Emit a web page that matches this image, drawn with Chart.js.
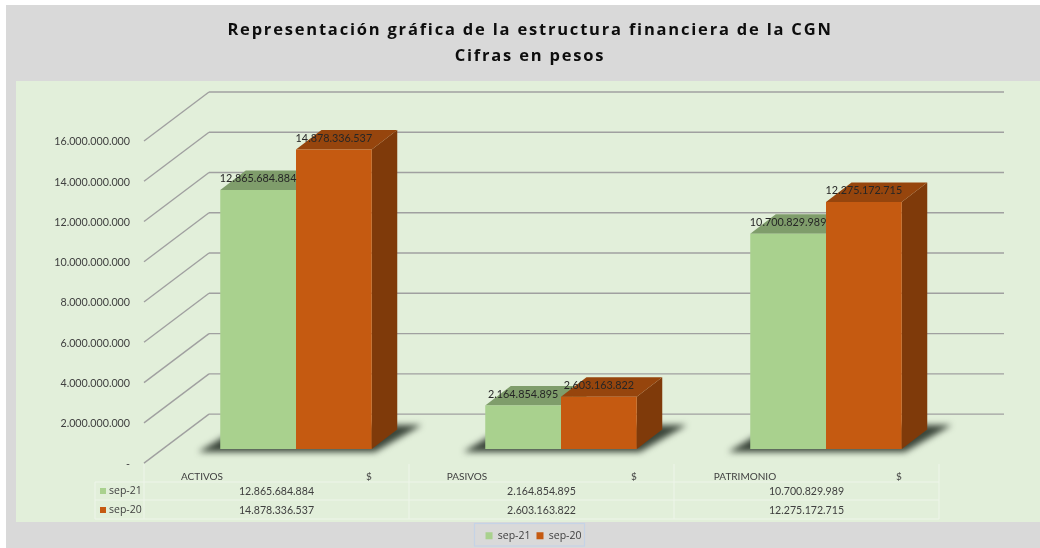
<!DOCTYPE html>
<html>
<head>
<meta charset="utf-8">
<title>Estructura financiera CGN</title>
<script src="https://cdn.jsdelivr.net/npm/chart.js@4"></script>
<style>
  html, body { margin: 0; padding: 0; background: #fff; }
  #wrap { width: 1040px; height: 548px; overflow: hidden; }
  canvas { filter: blur(0.45px); }
</style>
</head>
<body>
<div id="wrap"><canvas id="myChart" width="1040" height="548"></canvas></div>
<script>
const categories = ['ACTIVOS', 'PASIVOS', 'PATRIMONIO'];
const currencyLabel = '$';
const seriesNames = ['sep-21', 'sep-20'];
const sep21Values = [12865684884, 2164854895, 10700829989];
const sep20Values = [14878336537, 2603163822, 12275172715];
const titleLines = ['Representación gráfica de la estructura financiera de la CGN', 'Cifras en pesos'];

const frontColors = ['#a9d18e', '#c55a11'];
const topColors = ['#7f9d6b', '#96450d'];
const sideColors = ['#7f9d6b', '#7f3a0a'];

const font = 'Lato, sans-serif';
const textColor = '#404040';

// 3d offsets measured from the bar plane (the chart area)
const frontPlane = { dx: -19.5, dy: 14 };
const backPlane = { dx: 45.5, dy: -35 };
const barDepth = { dx: 25.5, dy: -19.5 };

function fmt(n) {
    return String(n).replace(/\B(?=(\d{3})+(?!\d))/g, '.');
}

function poly(ctx, pts, color) {
    ctx.fillStyle = color;
    ctx.beginPath();
    pts.forEach((p, i) => i ? ctx.lineTo(p[0], p[1]) : ctx.moveTo(p[0], p[1]));
    ctx.closePath();
    ctx.fill();
}

function line(ctx, x1, y1, x2, y2) {
    ctx.beginPath();
    ctx.moveTo(x1, y1);
    ctx.lineTo(x2, y2);
    ctx.stroke();
}

const chart3d = {
    id: 'chart3d',
    beforeDraw(chart) {
        const ctx = chart.ctx;
        ctx.save();
        ctx.fillStyle = '#d9d9d9';
        ctx.fillRect(6, 5, 1034, 543);
        ctx.fillStyle = '#e2efda';
        ctx.fillRect(16, 81, 1024, 441);

        // title
        ctx.fillStyle = '#0d0d0d';
        ctx.font = 'bold 16.5px "Open Sans", sans-serif';
        ctx.letterSpacing = '1.8px';
        ctx.textAlign = 'center';
        ctx.textBaseline = 'middle';
        ctx.fillText(titleLines[0], 530, 30);
        ctx.fillText(titleLines[1], 530, 56);
        ctx.letterSpacing = '0px';

        // legend frame
        ctx.strokeStyle = '#c5d3e6';
        ctx.lineWidth = 1.2;
        ctx.strokeRect(474.5, 523.5, 110, 22.5);
        ctx.restore();
    },
    beforeDatasetsDraw(chart) {
        const ctx = chart.ctx;
        const xs = chart.scales.x, ys = chart.scales.y;
        ctx.save();

        // walls: gridlines and diagonals
        ctx.strokeStyle = '#a0a0a0';
        ctx.lineWidth = 1.4;
        const left = xs.left, right = xs.right;
        ys.ticks.forEach(t => {
            const y = ys.getPixelForValue(t.value);
            line(ctx, left + frontPlane.dx, y + frontPlane.dy, left + backPlane.dx, y + backPlane.dy);
            line(ctx, left + backPlane.dx, y + backPlane.dy, right + backPlane.dx, y + backPlane.dy);
        });

        // y tick labels sit on the front plane
        ctx.fillStyle = textColor;
        ctx.font = '10.7px ' + font;
        ctx.textAlign = 'right';
        ctx.textBaseline = 'middle';
        ys.ticks.forEach(t => {
            const y = ys.getPixelForValue(t.value);
            ctx.fillText(t.label, left + frontPlane.dx - 14, y + frontPlane.dy + 1);
        });

        // floor shadows
        const metaA = chart.getDatasetMeta(0).data;
        const metaB = chart.getDatasetMeta(1).data;
        ctx.save();
        ctx.filter = 'blur(3px)';
        metaA.forEach((bar, i) => {
            const L = bar.x - bar.width / 2;
            const R = metaB[i].x + metaB[i].width / 2;
            const B = bar.base;
            poly(ctx, [[L - 22, B + 3], [R + 3, B + 3], [R + 50, B - 24], [L + 23, B - 24]], 'rgba(45,55,45,0.92)');
        });
        ctx.restore();

        // side and top faces, back to front
        [metaA, metaB].forEach((bars, s) => {
            bars.forEach(bar => {
                const L = bar.x - bar.width / 2;
                const R = bar.x + bar.width / 2;
                const T = bar.y, B = bar.base;
                const d = barDepth;
                poly(ctx, [[R, T], [R + d.dx, T + d.dy], [R + d.dx, B + d.dy], [R, B]], sideColors[s]);
                poly(ctx, [[L, T], [R, T], [R + d.dx, T + d.dy], [L + d.dx, T + d.dy]], topColors[s]);
            });
        });
        ctx.restore();
    },
    afterDatasetsDraw(chart) {
        const ctx = chart.ctx;
        const xs = chart.scales.x;
        ctx.save();

        // data labels
        ctx.fillStyle = '#262626';
        ctx.font = '10.8px ' + font;
        ctx.textAlign = 'center';
        ctx.textBaseline = 'middle';
        chart.data.datasets.forEach((ds, s) => {
            chart.getDatasetMeta(s).data.forEach((bar, i) => {
                ctx.fillText(fmt(ds.data[i]), bar.x, bar.y - 11.5);
            });
        });

        // data table
        const colW = xs.getPixelForValue(1) - xs.getPixelForValue(0);
        const tableLeft = xs.left + frontPlane.dx;
        const tableRight = xs.right + frontPlane.dx;
        const keyLeft = 95;
        const rowY = [464, 482, 500, 519];
        ctx.strokeStyle = '#eef5ea';
        ctx.lineWidth = 1;
        for (let i = 0; i <= categories.length; i++) {
            const x = tableLeft + i * colW;
            line(ctx, x, rowY[0], x, rowY[3]);
        }
        line(ctx, keyLeft, rowY[1], keyLeft, rowY[3]);
        rowY.slice(1).forEach(y => line(ctx, keyLeft, y, tableRight, y));

        ctx.fillStyle = textColor;
        categories.forEach((c, i) => {
            const x = tableLeft + i * colW;
            ctx.font = '10px ' + font;
            ctx.fillText(c, x + (i === 2 ? 71 : 58), 476.5);
            ctx.fillText(currencyLabel, x + 225, 476.5);
            ctx.font = '10.6px ' + font;
            ctx.fillText(fmt(chart.data.datasets[0].data[i]), x + colW / 2, 492);
            ctx.fillText(fmt(chart.data.datasets[1].data[i]), x + colW / 2, 511);
        });

        // table key
        ctx.textAlign = 'left';
        ctx.font = '10.5px "Open Sans", sans-serif';
        seriesNames.forEach((n, s) => {
            const y = s ? 510 : 491;
            ctx.fillStyle = frontColors[s];
            ctx.fillRect(100, y - 3, 6, 6);
            ctx.fillStyle = textColor;
            ctx.fillText(n, 109, y + 0.5);
        });
        ctx.restore();
    },
    afterLayout(chart) {
        // legend sits centred under the whole frame, not under the padded area
        chart.legend.left -= 27.5;
        chart.legend.right -= 27.5;
        chart.legend.top += 5;
        chart.legend.bottom += 5;
    }
};

new Chart(document.getElementById('myChart').getContext('2d'), {
    type: 'bar',
    data: {
        labels: categories,
        datasets: [{
            label: seriesNames[0],
            data: sep21Values,
            backgroundColor: frontColors[0]
        }, {
            label: seriesNames[1],
            data: sep20Values,
            backgroundColor: frontColors[1]
        }]
    },
    options: {
        responsive: false,
        animation: false,
        layout: { padding: { left: 163.5, right: 81.5, top: 127, bottom: 2 } },
        datasets: { bar: { barPercentage: 1, categoryPercentage: 0.5717 } },
        scales: {
            x: {
                grid: { display: false },
                border: { display: false },
                ticks: { display: false },
                afterFit(s) { s.height = 70.4; }
            },
            y: {
                min: 0,
                max: 16000000000,
                grid: { display: false },
                border: { display: false },
                ticks: {
                    display: false,
                    stepSize: 2000000000,
                    callback: v => v === 0 ? '-' : fmt(v)
                },
                afterFit(s) { s.width = 0; }
            }
        },
        plugins: {
            title: { display: false },
            tooltip: { enabled: false },
            legend: {
                position: 'bottom',
                labels: {
                    boxWidth: 7,
                    boxHeight: 7,
                    padding: 6,
                    color: textColor,
                    font: { family: '"Open Sans", sans-serif', size: 10.5 }
                }
            }
        }
    },
    plugins: [chart3d]
});
</script>
</body>
</html>
